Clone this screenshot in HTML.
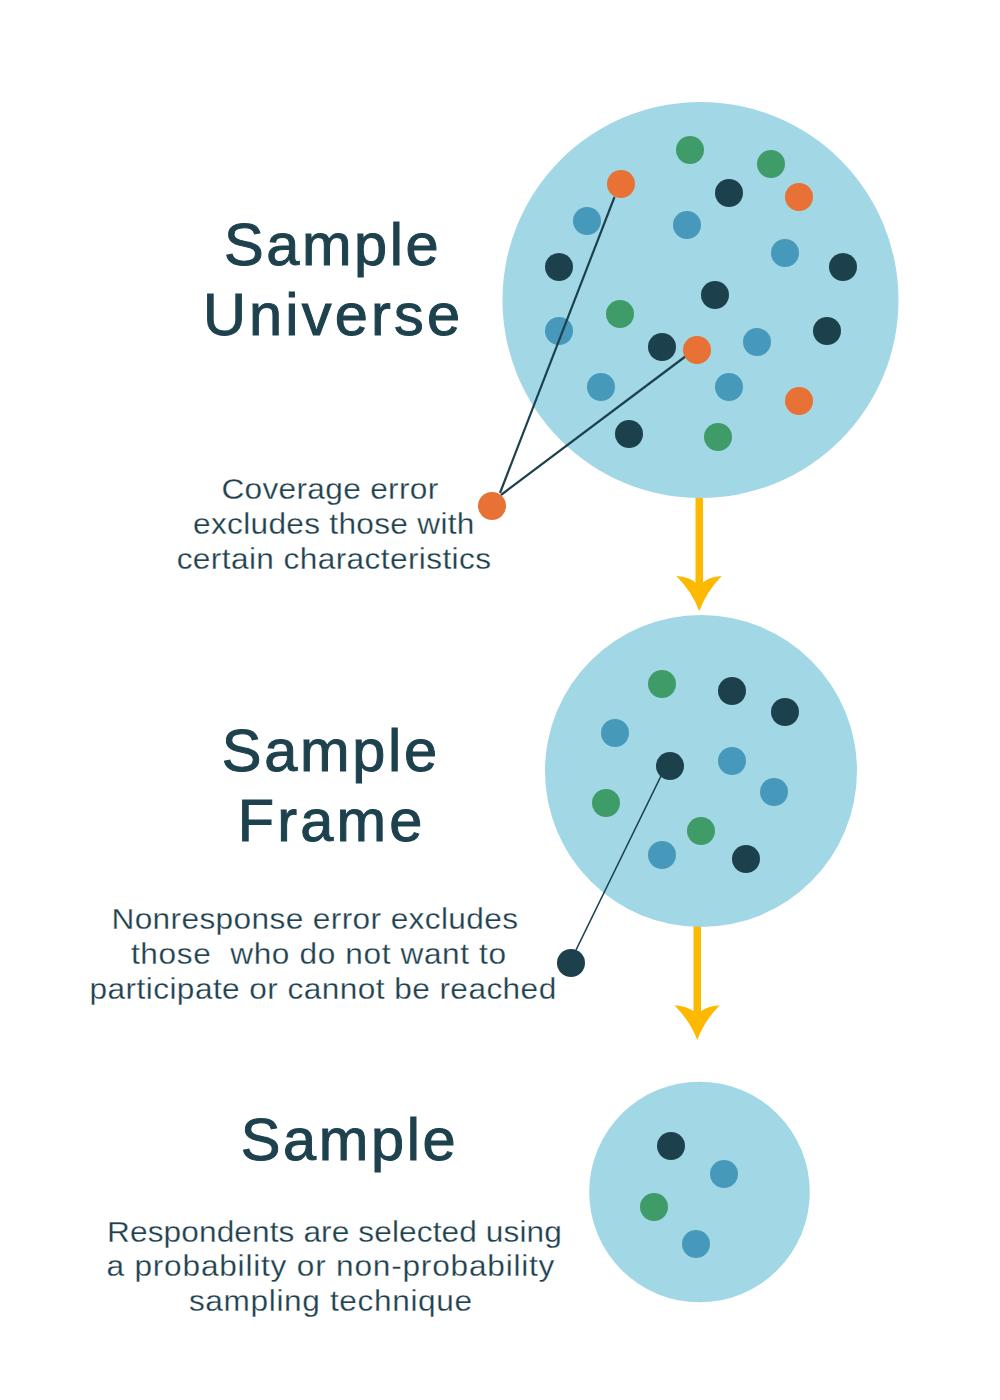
<!DOCTYPE html>
<html><head><meta charset="utf-8"><style>
html,body{margin:0;padding:0;background:#fff;width:1000px;height:1400px;overflow:hidden}
svg{display:block}
text{font-family:"Liberation Sans",sans-serif;fill:#1e414e}
.h{font-size:59.5px;stroke:#1e414e;stroke-width:1.0px;}
.t{font-size:28px;stroke:#fff;stroke-width:0.25px;}
</style></head><body>
<svg width="1000" height="1400" viewBox="0 0 1000 1400">
<rect x="693.5" y="923" width="7.5" height="89.20000000000005" fill="#fdb800"/><path d="M674.35 1005.2 Q687.25 1006.2 693.50 1011.2 L701.00 1011.2 Q707.25 1006.2 719.65 1005.2 Q704.25 1021.2 697.25 1040 Q690.25 1021.2 674.35 1005.2 Z" fill="#fdb800"/>
<rect x="695.5" y="494" width="7.5" height="89.39999999999998" fill="#fdb800"/><path d="M676.35 576.1 Q689.25 577.1 695.50 582.4 L703.00 582.4 Q709.25 577.1 721.65 576.1 Q706.25 592.1 699.25 611.2 Q692.25 592.1 676.35 576.1 Z" fill="#fdb800"/>
<circle cx="700.5" cy="300" r="198" fill="#a2d8e5"/>
<circle cx="701" cy="771" r="156" fill="#a2d8e5"/>
<circle cx="699.5" cy="1192" r="110.3" fill="#a2d8e5"/>
<circle cx="690" cy="150" r="14" fill="#3f9c68"/>
<circle cx="771" cy="164" r="14" fill="#3f9c68"/>
<circle cx="621" cy="184" r="14" fill="#e87135"/>
<circle cx="729" cy="193" r="14" fill="#1c414d"/>
<circle cx="799" cy="197" r="14" fill="#e87135"/>
<circle cx="587" cy="221" r="14" fill="#4799bb"/>
<circle cx="687" cy="225" r="14" fill="#4799bb"/>
<circle cx="785" cy="253" r="14" fill="#4799bb"/>
<circle cx="559" cy="267" r="14" fill="#1c414d"/>
<circle cx="843" cy="267" r="14" fill="#1c414d"/>
<circle cx="715" cy="295" r="14" fill="#1c414d"/>
<circle cx="620" cy="314" r="14" fill="#3f9c68"/>
<circle cx="559" cy="331" r="14" fill="#4799bb"/>
<circle cx="827" cy="331" r="14" fill="#1c414d"/>
<circle cx="757" cy="342" r="14" fill="#4799bb"/>
<circle cx="662" cy="347" r="14" fill="#1c414d"/>
<circle cx="601" cy="387" r="14" fill="#4799bb"/>
<circle cx="729" cy="387" r="14" fill="#4799bb"/>
<circle cx="799" cy="401" r="14" fill="#e87135"/>
<circle cx="629" cy="434" r="14" fill="#1c414d"/>
<circle cx="718" cy="437" r="14" fill="#3f9c68"/>
<line x1="614.5" y1="197" x2="500" y2="493" stroke="#1c414d" stroke-width="2.2"/>
<line x1="686" y1="356" x2="501" y2="495" stroke="#1c414d" stroke-width="2.2"/>
<circle cx="697" cy="350" r="14" fill="#e87135"/>
<circle cx="492" cy="506" r="14" fill="#e87135"/>
<circle cx="662" cy="684" r="14" fill="#3f9c68"/>
<circle cx="732" cy="691" r="14" fill="#1c414d"/>
<circle cx="785" cy="712" r="14" fill="#1c414d"/>
<circle cx="615" cy="733" r="14" fill="#4799bb"/>
<circle cx="670" cy="766" r="14" fill="#1c414d"/>
<circle cx="732" cy="761" r="14" fill="#4799bb"/>
<circle cx="774" cy="792" r="14" fill="#4799bb"/>
<circle cx="606" cy="803" r="14" fill="#3f9c68"/>
<circle cx="701" cy="831" r="14" fill="#3f9c68"/>
<circle cx="662" cy="855" r="14" fill="#4799bb"/>
<circle cx="746" cy="859" r="14" fill="#1c414d"/>
<line x1="661" y1="776" x2="576" y2="950" stroke="#1c414d" stroke-width="1.6"/>
<circle cx="571" cy="963" r="14" fill="#1c414d"/>
<circle cx="671" cy="1146" r="14" fill="#1c414d"/>
<circle cx="724" cy="1174" r="14" fill="#4799bb"/>
<circle cx="654" cy="1207" r="14" fill="#3f9c68"/>
<circle cx="696" cy="1244" r="14" fill="#4799bb"/>
<text class="h" transform="scale(1.0,1.0)" x="224.07" y="264.800" textLength="214.44" lengthAdjust="spacing">Sample</text>
<text class="h" transform="scale(1.0,1.0)" x="202.90" y="334.700" textLength="257.18" lengthAdjust="spacing">Universe</text>
<text class="t" transform="scale(1.13,1.08)" x="195.94" y="462.407" textLength="191.88" lengthAdjust="spacing">Coverage error</text>
<text class="t" transform="scale(1.13,1.08)" x="170.90" y="494.815" textLength="248.95" lengthAdjust="spacing">excludes those with</text>
<text class="t" transform="scale(1.13,1.08)" x="156.35" y="527.222" textLength="278.19" lengthAdjust="spacing">certain characteristics</text>
<text class="h" transform="scale(1.0,1.0)" x="221.80" y="771.000" textLength="215.32" lengthAdjust="spacing">Sample</text>
<text class="h" transform="scale(1.0,1.0)" x="237.84" y="840.700" textLength="184.42" lengthAdjust="spacing">Frame</text>
<text class="t" transform="scale(1.13,1.08)" x="98.62" y="859.907" textLength="359.85" lengthAdjust="spacing">Nonresponse error excludes</text>
<text class="t" transform="scale(1.13,1.08)" x="115.91" y="892.222" textLength="331.96" lengthAdjust="spacing">those  who do not want to</text>
<text class="t" transform="scale(1.13,1.08)" x="79.29" y="924.630" textLength="412.97" lengthAdjust="spacing">participate or cannot be reached</text>
<text class="h" transform="scale(1.0,1.0)" x="240.76" y="1159.700" textLength="214.86" lengthAdjust="spacing">Sample</text>
<text class="t" transform="scale(1.13,1.08)" x="94.70" y="1149.815" textLength="402.52" lengthAdjust="spacing">Respondents are selected using</text>
<text class="t" transform="scale(1.13,1.08)" x="94.25" y="1181.944" textLength="396.39" lengthAdjust="spacing">a probability or non-probability</text>
<text class="t" transform="scale(1.13,1.08)" x="167.19" y="1214.074" textLength="250.63" lengthAdjust="spacing">sampling technique</text>
</svg>
</body></html>
